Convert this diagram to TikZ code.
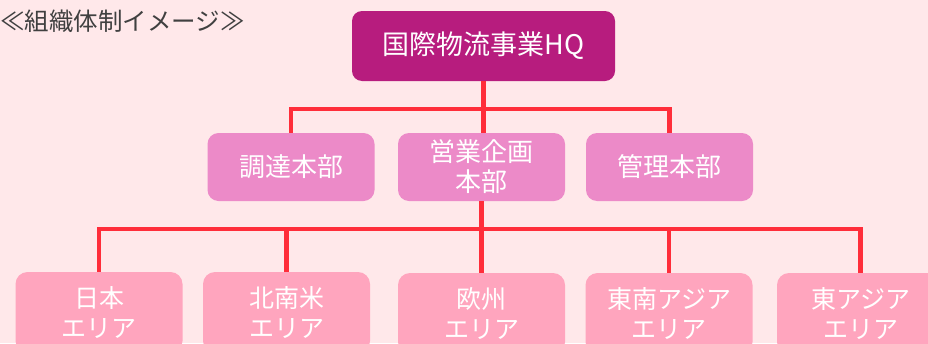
\documentclass[tikz,border=0pt]{standalone}
\usepackage{fontspec}
\setmainfont{Noto Sans CJK JP}
\definecolor{bgpink}{HTML}{FFE8EA}
\definecolor{hqcol}{HTML}{B71C7E}
\definecolor{midcol}{HTML}{EC8AC8}
\definecolor{lowcol}{HTML}{FFA5BE}
\definecolor{linecol}{HTML}{FF2D3A}
\definecolor{titlecol}{HTML}{404040}
\begin{document}
\begin{tikzpicture}[x=1pt,y=-1pt,
  hqbox/.style={fill=hqcol, rounded corners=10pt, minimum width=263pt, minimum height=70pt, inner sep=0pt, text=white, font=\fontsize{27}{32}\selectfont},
  midbox/.style={fill=midcol, rounded corners=11pt, minimum width=167pt, minimum height=68pt, inner sep=0pt, text=white, align=center, font=\fontsize{26}{30}\selectfont},
  lowbox/.style={fill=lowcol, rounded corners=12pt, minimum width=167pt, minimum height=81pt, inner sep=0pt, text=white, align=center, font=\fontsize{25}{30}\selectfont},
  conn/.style={draw=linecol, line width=4.8pt, line join=miter}]
\useasboundingbox (0,0) rectangle (928,343);
\fill[bgpink] (0,0) rectangle (928,343);
\clip (0,0) rectangle (928,343);
\node[anchor=west, text=titlecol, inner sep=0pt, font=\fontsize{24.5}{28}\selectfont] (title) at (0,21) {≪組織体制イメージ≫};
\coordinate (bus1) at (0,109);
\coordinate (bus2) at (0,229);
\node[hqbox] (hq) at (483.5,46) {国際物流事業HQ};
\node[midbox] (chotatsu) at (291,167) {調達本部};
\node[midbox] (eigyo) at (481.5,167) {営業企画\\本部};
\node[midbox] (kanri) at (669.5,167) {管理本部};
\node[lowbox] (japan) at (99,312.5) {日本\\エリア};
\node[lowbox] (america) at (286.5,312.5) {北南米\\エリア};
\node[lowbox] (europe) at (481.5,313.5) {欧州\\エリア};
\node[lowbox] (seasia) at (669,313.5) {東南アジア\\エリア};
\node[lowbox] (easia) at (860.5,313.5) {東アジア\\エリア};
\draw[conn] (hq.south) -- (hq.south |- bus1) -| (chotatsu.north);
\draw[conn] (hq.south |- bus1) -| (kanri.north);
\draw[conn] (hq.south |- bus1) -- (hq.south |- eigyo.north);
\draw[conn] (eigyo.south) -- (eigyo.south |- bus2) -| (japan.north);
\draw[conn] (eigyo.south |- bus2) -| (america.north);
\draw[conn] (eigyo.south |- bus2) -- (europe.north);
\draw[conn] (eigyo.south |- bus2) -| (seasia.north);
\draw[conn] (eigyo.south |- bus2) -| (easia.north);
\end{tikzpicture}
\end{document}
